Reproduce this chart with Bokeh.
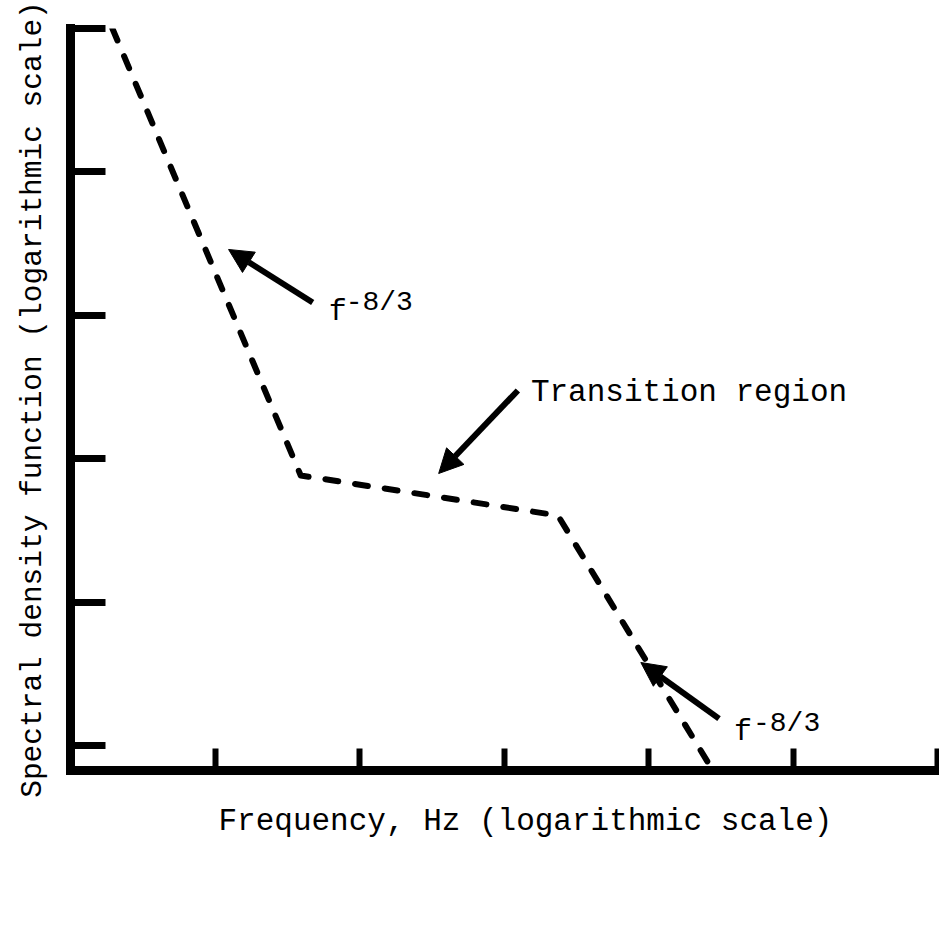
from bokeh.plotting import figure
from bokeh.models import Range1d, FixedTicker, Arrow, NormalHead, Label, Title
from bokeh.embed import file_html
from bokeh.resources import INLINE

# ---- data (log-log conceptual spectrum) ----
freq = [1.95, 39.2, 2360.0, 27900.0]          # Hz
psd = [100000.0, 76.4, 40.2, 0.67]            # spectral density (arb.)
x_ticks = [10, 100, 1000, 10000, 100000, 1000000]
y_ticks = [1, 10, 100, 1000, 10000, 100000]
slope_label = "f"
slope_sup = "-8/3"
transition_label = "Transition region"
x_title = "Frequency, Hz (logarithmic scale)"
y_title = "Spectral density function (logarithmic scale)"

FONT = "Liberation Mono"


def L(d):
    return 10 ** d


p = figure(width=939, height=880, x_axis_type="log", y_axis_type="log",
           x_range=Range1d(1, 1e6), y_range=Range1d(L(-0.174), 1e5),
           output_backend="svg", toolbar_location=None,
           min_border_left=70, min_border_right=2, min_border_top=28,
           min_border_bottom=110, background_fill_color="white",
           border_fill_color="white")
p.outline_line_color = None
p.grid.visible = False

for ax in (p.xaxis, p.yaxis):
    ax.axis_line_width = 9
    ax.axis_line_color = "black"
    ax.axis_line_cap = "square"
    ax.minor_tick_line_color = None
    ax.major_label_text_font_size = "1px"
    ax.major_label_text_color = None
    ax.major_label_standoff = 0
    ax.major_tick_line_color = "black"
    ax.major_tick_out = 0

p.xaxis.ticker = FixedTicker(ticks=x_ticks)
p.yaxis.ticker = FixedTicker(ticks=y_ticks)
p.xaxis.major_tick_in = 22
p.xaxis.major_tick_out = 4
p.xaxis.major_tick_line_width = 6
p.yaxis.major_tick_in = 35
p.yaxis.major_tick_line_width = 7

# y axis title
p.yaxis.axis_label = y_title
p.yaxis.axis_label_text_font = FONT
p.yaxis.axis_label_text_font_size = "29.5px"
p.yaxis.axis_label_text_font_style = "normal"
p.yaxis.axis_label_text_color = "black"
p.yaxis.axis_label_standoff = 21

# x axis title (as a left-aligned title below the axis)
xt = Title(text=x_title, align="left", offset=148, text_font=FONT,
           text_font_size="31px", text_font_style="normal",
           text_color="black", standoff=55)
p.add_layout(xt, "below")

p.line(freq, psd, line_width=6, line_color="black", line_dash="13 17",
       line_cap="round", line_join="round")

# arrows
arrows = [
    (1.676, 3.089, 1.094, 3.459),
    (3.096, 2.476, 2.548, 1.897),
    (4.488, 0.188, 3.947, 0.579),
]
for xs, ys, xe, ye in arrows:
    p.add_layout(Arrow(end=NormalHead(size=24, fill_color="black", line_color="black",
                                      line_width=1),
                       x_start=L(xs), y_start=L(ys), x_end=L(xe), y_end=L(ye),
                       line_width=6, line_color="black"))

# slope labels
for (fx, fy, sx, sy) in [(1.787, 3.020, 1.904, 3.089), (4.591, 0.091, 4.723, 0.153)]:
    p.add_layout(Label(x=L(fx), y=L(fy), text=slope_label, text_font=FONT,
                       text_font_size="30px", text_align="left",
                       text_baseline="alphabetic", text_color="black"))
    p.add_layout(Label(x=L(sx), y=L(sy), text=slope_sup, text_font=FONT,
                       text_font_size="28px", text_align="left",
                       text_baseline="alphabetic", text_color="black"))

p.add_layout(Label(x=L(3.186), y=L(2.462), text=transition_label, text_font=FONT,
                   text_font_size="31px", text_align="left",
                   text_baseline="alphabetic", text_color="black"))

open("out.html", "w").write(file_html(p, INLINE))
